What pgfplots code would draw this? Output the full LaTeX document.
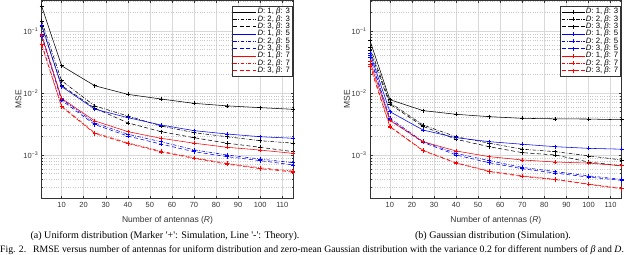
\documentclass[border=0pt]{standalone}
\usepackage{fontspec}
\setmainfont{Liberation Serif}
\newfontfamily\axisfont{Liberation Sans}
\usepackage{pgfplots}
\pgfplotsset{compat=1.18}
\usepackage{pgfplotstable}

\pgfplotstableread{
R    A       B       C       E       F       G       H       I       J
1    0.25    0.145   0.12    0.125   0.088   0.082   0.085   0.062   0.060
10   0.0275  0.0158  0.0132  0.0127  0.0080  0.0076  0.0082  0.0062  0.0060
25   0.0131  0.0062  0.0057  0.0055  0.0033  0.0031  0.00355 0.00228 0.00222
40   0.0095  0.00426 0.0033  0.0040  0.00216 0.00202 0.00238 0.00157 0.00153
55   0.0080  0.00294 0.00238 0.00305 0.00164 0.0015  0.00186 0.00115 0.00112
70   0.0068  0.00229 0.0019  0.00247 0.00121 0.00113 0.00155 0.0009  0.00088
85   0.0062  0.00197 0.00155 0.00218 0.0010  0.00094 0.00133 0.00073 0.00071
100  0.0058  0.0017  0.00133 0.00197 0.00086 0.00081 0.0012  0.00062 0.0006
115  0.00545 0.00155 0.00113 0.00186 0.00075 0.00069 0.00106 0.00055 0.00053
}\uniform

\pgfplotstableread{
R    A       B       C       E       F       G       H       I        J
1    0.070   0.055   0.048   0.044   0.040   0.038   0.032   0.029    0.027
10   0.0078  0.0070  0.0066  0.0050  0.0039  0.0037  0.0036  0.0029   0.00285
25   0.0052  0.00305 0.0029  0.00253 0.00165 0.0016  0.00164 0.00119  0.00117
40   0.00453 0.00197 0.00179 0.0019  0.00106 0.001   0.00116 0.00075  0.00074
55   0.00415 0.00155 0.00136 0.00164 0.00081 0.00075 0.00094 0.00055  0.00054
70   0.0039  0.00124 0.00109 0.00149 0.00063 0.0006  0.00083 0.00046  0.00045
85   0.00383 0.00113 0.001   0.00136 0.00054 0.00051 0.00077 0.000405 0.0004
100  0.0038  0.00097 0.00077 0.00128 0.00046 0.00044 0.00074 0.00034  0.000335
115  0.0037  0.00083 0.00067 0.00124 0.000405 0.00039 0.00067 0.00029 0.000285
}\gauss

\tikzset{
  s1/.style={black},
  s2/.style={black, dash pattern=on 3.5bp off 1.5bp on 0.8bp off 1.5bp},
  s3/.style={black, dash pattern=on 4bp off 2.5bp},
  s4/.style={blue},
  s5/.style={blue, dash pattern=on 3.5bp off 1.5bp on 0.8bp off 1.5bp},
  s6/.style={blue, dash pattern=on 4bp off 2.5bp},
  s7/.style={red},
  s8/.style={red, dash pattern=on 3.5bp off 1.5bp on 0.8bp off 1.5bp},
  s9/.style={red, dash pattern=on 4bp off 2.5bp},
}

\pgfplotsset{
  every axis plot/.append style={line width=0.55pt, mark=+, mark size=2bp, mark options={solid}},
  every axis/.append style={
    scale only axis, width=251.6bp, height=198.3bp,
    xmin=1, xmax=115, ymin=2e-4, ymax=0.3162,
    xtick={10,20,...,110},
    ytick={1e-3,1e-2,1e-1},
    yticklabels={10\textsuperscript{−3},10\textsuperscript{−2},10\textsuperscript{−1}},
    minor ytick={2e-4,3e-4,4e-4,5e-4,6e-4,7e-4,8e-4,9e-4,2e-3,3e-3,4e-3,5e-3,6e-3,7e-3,8e-3,9e-3,2e-2,3e-2,4e-2,5e-2,6e-2,7e-2,8e-2,9e-2,2e-1,3e-1},
    tick align=inside,
    major tick length=2.5bp, minor tick length=1.5bp,
    xmajorgrids, ymajorgrids, yminorgrids,
    major grid style={black!15, line width=0.4pt},
    minor grid style={black!22, dotted, line width=0.4pt},
    axis line style={black!80, line width=0.5pt},
    tick style={black!80, line width=0.4pt},
    tick label style={font=\axisfont\fontsize{7.5}{8}\selectfont, text=black!80},
    label style={font=\axisfont\fontsize{8.5}{9}\selectfont, text=black!80},
    xlabel style={yshift=-2.5bp},
    ylabel style={yshift=-5bp},
    legend cell align=left,
    legend style={at={(0.996,0.97)}, anchor=north east, font=\axisfont\fontsize{7.8}{8}\selectfont,
      draw=black!80, line width=0.4pt, inner sep=1.2bp, row sep=-1.8bp,
      nodes={inner sep=1bp}},
    legend image code/.code={\draw[mark repeat=2,mark phase=2,#1] plot coordinates {(0bp,0bp)(11.5bp,0bp)(23bp,0bp)};},
  },
}

\begin{document}
\begin{tikzpicture}
\useasboundingbox (0,0) rectangle (640bp,255bp);
\clip (0,0) rectangle (640bp,255bp);

\begin{semilogyaxis}[at={(41.7bp,56.7bp)}, anchor=south west,
  /pgf/number format/assume math mode=true,
  xlabel={Number of antennas (\textit{R})}, ylabel={MSE},
  legend image post style={mark=none}]
\addplot[s1] table[x=R,y=A] {\uniform};
\addplot[s2] table[x=R,y=B] {\uniform};
\addplot[s3] table[x=R,y=C] {\uniform};
\addplot[s4] table[x=R,y=E] {\uniform};
\addplot[s5] table[x=R,y=F] {\uniform};
\addplot[s6] table[x=R,y=G] {\uniform};
\addplot[s7] table[x=R,y=H] {\uniform};
\addplot[s8] table[x=R,y=I] {\uniform};
\addplot[s9] table[x=R,y=J] {\uniform};
\legend{{\textit{D}: 1, \textit{β}: 3}, {\textit{D}: 2, \textit{β}: 3}, {\textit{D}: 3, \textit{β}: 3},
  {\textit{D}: 1, \textit{β}: 5}, {\textit{D}: 2, \textit{β}: 5}, {\textit{D}: 3, \textit{β}: 5},
  {\textit{D}: 1, \textit{β}: 7}, {\textit{D}: 2, \textit{β}: 7}, {\textit{D}: 3, \textit{β}: 7}}
\end{semilogyaxis}

\begin{semilogyaxis}[at={(370bp,56.7bp)}, anchor=south west,
  /pgf/number format/assume math mode=true,
  xlabel={Number of antennas (\textit{R})}, ylabel={MSE}]
\addplot[s1] table[x=R,y=A] {\gauss};
\addplot[s2] table[x=R,y=B] {\gauss};
\addplot[s3] table[x=R,y=C] {\gauss};
\addplot[s4] table[x=R,y=E] {\gauss};
\addplot[s5] table[x=R,y=F] {\gauss};
\addplot[s6] table[x=R,y=G] {\gauss};
\addplot[s7] table[x=R,y=H] {\gauss};
\addplot[s8] table[x=R,y=I] {\gauss};
\addplot[s9] table[x=R,y=J] {\gauss};
\legend{{\textit{D}: 1, \textit{β}: 3}, {\textit{D}: 2, \textit{β}: 3}, {\textit{D}: 3, \textit{β}: 3},
  {\textit{D}: 1, \textit{β}: 5}, {\textit{D}: 2, \textit{β}: 5}, {\textit{D}: 3, \textit{β}: 5},
  {\textit{D}: 1, \textit{β}: 7}, {\textit{D}: 2, \textit{β}: 7}, {\textit{D}: 3, \textit{β}: 7}}
\end{semilogyaxis}

\node[font=\fontsize{10.1}{11}\selectfont] at (165bp,19bp) {(a) Uniform distribution (Marker \textquotesingle+\textquotesingle: Simulation, Line \textquotesingle-\textquotesingle: Theory).};
\node[font=\fontsize{10.1}{11}\selectfont] at (493bp,19bp) {(b) Gaussian distribution (Simulation).};
\node[font=\fontsize{9.8}{11}\selectfont, anchor=base west, inner sep=0pt] at (0bp,2.4bp) {Fig. 2.\hspace{0.7em}RMSE versus number of antennas for uniform distribution and zero-mean Gaussian distribution with the variance 0.2 for different numbers of \textit{β} and \textit{D}.};
\end{tikzpicture}
\end{document}
